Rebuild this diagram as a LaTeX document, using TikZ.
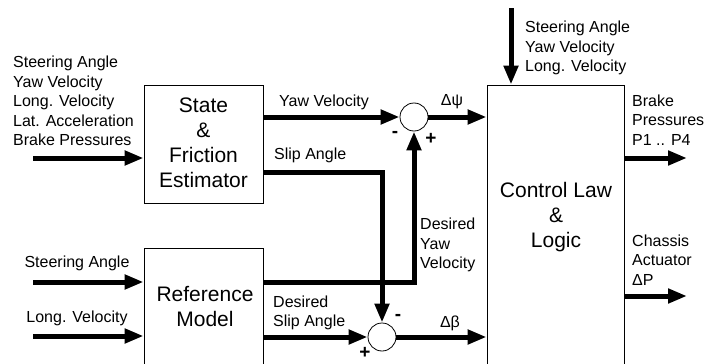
\documentclass[tikz,border=0pt]{standalone}
\usepackage{fontspec}
\setmainfont{Liberation Sans}
\usetikzlibrary{arrows.meta}
\begin{document}
\begin{tikzpicture}[x=1pt,y=-1pt,
  box/.style={draw, line width=0.8pt, inner sep=0pt},
  arr/.style={line width=5pt, -{Triangle[length=19pt,width=14pt]}},
  sum/.style={circle, draw, fill=white, line width=0.8pt, minimum size=28pt, inner sep=0pt},
  lbl/.style={font=\fontsize{16}{19.5}\selectfont, inner sep=0pt, align=left},
  blk/.style={font=\fontsize{21}{25}\selectfont, inner sep=0pt, align=center},
  sgn/.style={font=\fontsize{19}{19}\selectfont\bfseries, inner sep=0pt}]
\useasboundingbox (0,0) rectangle (705,364);
\clip (0,0) rectangle (705,364);

% blocks
\node[box, minimum width=119pt, minimum height=118pt] (state) at (203.5,144) {};
\node[box, minimum width=119pt, minimum height=140pt] (ref) at (203.5,318) {};
\node[box, minimum width=137pt, minimum height=320pt] (ctrl) at (555.5,245) {};
\node[blk] (statelbl) at (203.5,142.5) {State\\\&\\Friction\\Estimator};
\node[blk] (reflbl) at (205,307) {Reference\\Model};
\node[blk] (ctrllbl) at (556,217) {Control Law\\\&\\Logic};

% summing junctions
\node[sum] (s1) at (414,117) {};
\node[sum] (s2) at (382,337) {};

% free ends
\coordinate (inA) at (33,158);
\coordinate (inB) at (33,282);
\coordinate (inC) at (33,336);
\coordinate (inT) at (511,8);
\coordinate (outA) at (687,158);
\coordinate (outB) at (687,296);

% connectors
\draw[arr] (inA) -- (inA -| state.west);
\draw[arr] (inB) -- (inB -| ref.west);
\draw[arr] (inC) -- (inC -| ref.west);
\draw[arr] (inT) -- (inT |- ctrl.north);
\draw[arr] (outA -| ctrl.east) -- (outA);
\draw[arr] (outB -| ctrl.east) -- (outB);
\draw[arr] (s1 -| state.east) -- (s1.west);
\draw[arr] (s1.east) -- (s1 -| ctrl.west);
\draw[arr] (s2 -| ref.east) -- (s2.west);
\draw[arr] (s2.east) -- (s2 -| ctrl.west);
\draw[arr] ([yshift=36pt]ref.east) -| (s1.south);
\draw[arr] ([yshift=-28pt]state.east) -| (s2.north);

% labels
\node[lbl, anchor=west] (inlist) at (13,101) {Steering Angle\\Yaw Velocity\\Long. Velocity\\Lat. Acceleration\\Brake Pressures};
\node[lbl] (stlbl) at (77,263) {Steering Angle};
\node[lbl] (lvlbl) at (77,318) {Long. Velocity};
\node[lbl] (yawlbl) at (324,102) {Yaw Velocity};
\node[lbl] (dpsi) at (452,102) {Δψ};
\node[lbl, anchor=west] (sliplbl) at (274,155) {Slip Angle};
\node[lbl, anchor=west] (dyawlbl) at (420,245) {Desired\\Yaw\\Velocity};
\node[lbl, anchor=west] (dsliplbl) at (273,313) {Desired\\Slip Angle};
\node[lbl] (dbeta) at (450,323) {Δβ};
\node[lbl, anchor=west] (toplbl) at (525,48) {Steering Angle\\Yaw Velocity\\Long. Velocity};
\node[lbl, anchor=west] (brakelbl) at (632,120) {Brake\\Pressures\\P1 .. P4};
\node[lbl, anchor=west] (chlbl) at (632,260) {Chassis\\Actuator\\ΔP};

% signs
\node[sgn] (m1) at (395,134) {-};
\node[sgn] (p1) at (431,139) {+};
\node[sgn] (m2) at (398,317) {-};
\node[sgn] (p2) at (365,353) {+};
\end{tikzpicture}
\end{document}
